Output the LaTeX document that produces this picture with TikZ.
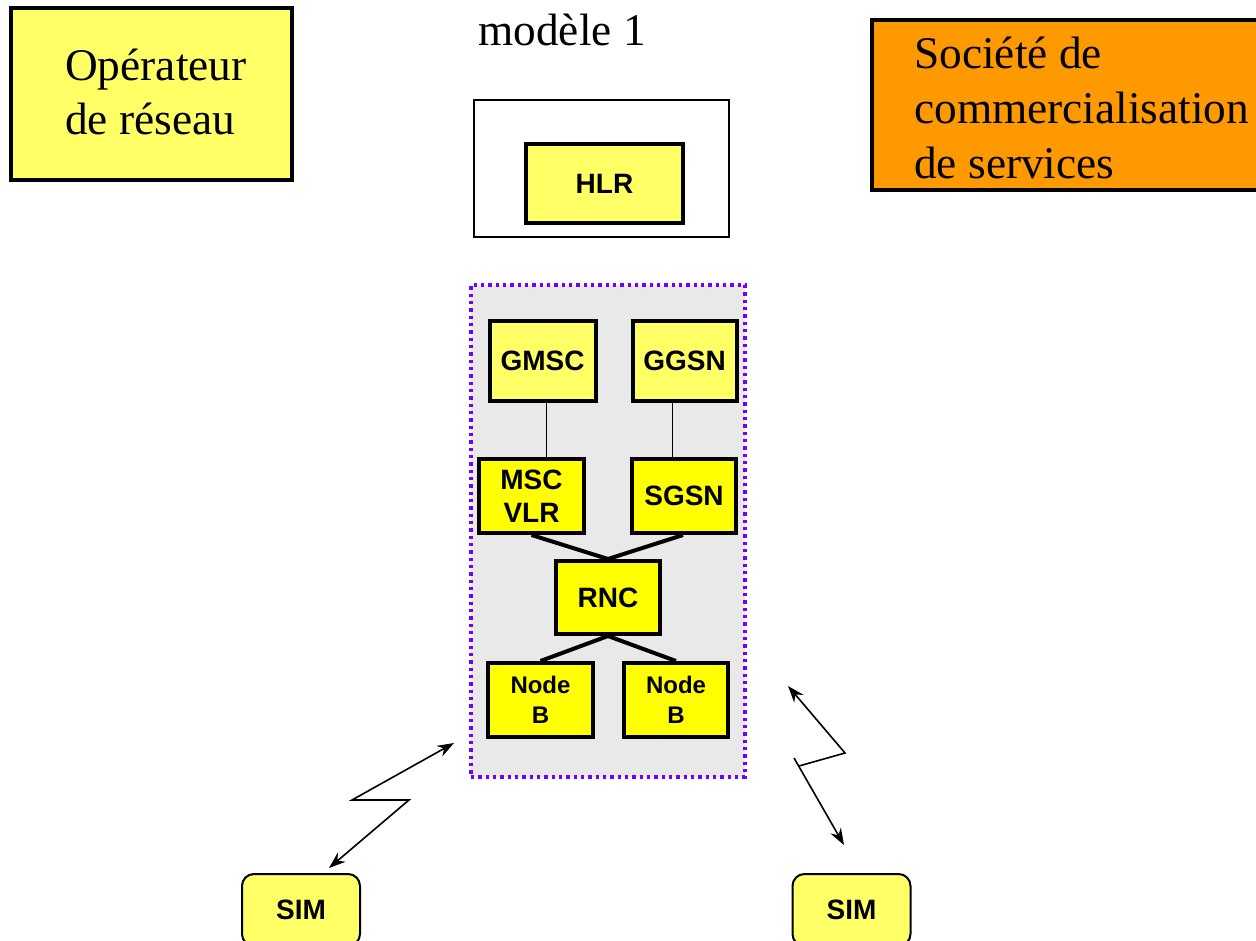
\documentclass[tikz,border=0pt]{standalone}
\usepackage{fontspec}
\setmainfont{Liberation Serif}
\setsansfont{Liberation Sans}
\usetikzlibrary{arrows.meta}
\definecolor{paleyellow}{HTML}{FFFF66}
\definecolor{brightyellow}{HTML}{FFFF00}
\definecolor{orangefill}{HTML}{FF9900}
\definecolor{zonegrey}{HTML}{E9E9E9}
\definecolor{zonepurple}{HTML}{7000FF}
\tikzset{
  titletext/.style={font=\fontsize{34}{41}\selectfont, inner sep=0pt, anchor=base west},
  unit/.style={draw=black, line width=3pt, inner sep=0pt, align=center,
               font=\sffamily\bfseries\fontsize{21}{25}\selectfont},
  paleunit/.style={unit, fill=paleyellow},
  brightunit/.style={unit, fill=brightyellow},
  nodeb/.style={brightunit, minimum width=78.5pt, minimum height=55.5pt,
                font=\sffamily\bfseries\fontsize{18}{22.5}\selectfont},
  simcard/.style={draw=black, line width=1.5pt, fill=paleyellow, rounded corners=9pt,
                  minimum width=88.5pt, minimum height=54pt, inner sep=0pt,
                  font=\sffamily\bfseries\fontsize{21}{25}\selectfont},
  thinlink/.style={line width=1pt},
  thicklink/.style={line width=3pt},
  radiotip/.tip={Stealth[length=12.5pt,width=9pt]},
  radiowire/.style={line width=1.2pt},
}
\begin{document}
\begin{tikzpicture}[x=0.75pt,y=-0.75pt]
\useasboundingbox (0,0) rectangle (1256,941);

% operator box
\node[draw=black, line width=3pt, fill=paleyellow, minimum width=210.75pt, minimum height=129pt, inner sep=0pt]
  (operator) at (151.5,94) {};
\node[titletext] (op1) at (65,81) {Opérateur};
\node[titletext] (op2) at (65,135) {de réseau};

% service company box
\node[draw=black, line width=3pt, fill=orangefill, minimum width=293.25pt, minimum height=127.5pt, inner sep=0pt]
  (company) at (1067.5,105) {};
\node[titletext] (co1) at (914,69) {Société de};
\node[titletext] (co2) at (914,124) {commercialisation};
\node[titletext] (co3) at (914,179) {de services};

% title
\node[titletext, anchor=base] (title) at (562,46) {modèle 1};

% HLR frame
\node[draw=black, line width=1.2pt, fill=white, minimum width=191.25pt, minimum height=102.75pt, inner sep=0pt]
  (hlrframe) at (601.5,168.5) {};
\node[paleunit, minimum width=117.75pt, minimum height=59.25pt] (hlr) at (604.5,183.5) {HLR};

% network zone
\node[draw=zonepurple, fill=zonegrey, line width=2.6pt, dash pattern=on 2.6pt off 2.9pt,
      minimum width=205.5pt, minimum height=369pt, inner sep=0pt] (zone) at (608,531) {};

\node[paleunit, minimum width=79.5pt, minimum height=60pt] (gmsc) at (542.5,361) {GMSC};
\node[paleunit, minimum width=78pt, minimum height=60pt] (ggsn) at (684.5,361) {GGSN};
\node[brightunit, minimum width=78.75pt, minimum height=55.5pt] (msc) at (531.5,496) {MSC\\VLR};
\node[brightunit, minimum width=78pt, minimum height=55.5pt] (sgsn) at (684,496) {SGSN};
\node[brightunit, minimum width=78pt, minimum height=54.75pt] (rnc) at (608,597.5) {RNC};
\node[nodeb] (nbl) at (540.5,700) {Node\\B};
\node[nodeb, minimum width=78pt] (nbr) at (676,700) {Node\\B};

\draw[thinlink] ([xshift=3pt]gmsc.south) -- ([xshift=3pt]gmsc.south |- msc.north);
\draw[thinlink] ([xshift=-9pt]ggsn.south) -- ([xshift=-9pt]ggsn.south |- sgsn.north);
\draw[thicklink] (msc.south) -- (rnc.north);
\draw[thicklink] ([xshift=-0.75pt]sgsn.south) -- (rnc.north);
\draw[thicklink] (rnc.south) -- (nbl.north);
\draw[thicklink] (rnc.south) -- (nbr.north);

% SIM cards
\node[simcard] (siml) at (301,910) {SIM};
\node[simcard] (simr) at (851.5,910) {SIM};

% radio links
\coordinate (zl) at (454,743);
\coordinate (sl) at (329,868);
\draw[radiowire, radiotip-radiotip] (sl) -- (409,800) -- (352,800) -- (zl);

\coordinate (zr) at (788,686);
\coordinate (sr) at (844,845);
\draw[radiowire, radiotip-] (zr) -- (845,753) -- (799,766);
\draw[radiowire, -radiotip] (794,758) -- (sr);
\end{tikzpicture}
\end{document}
